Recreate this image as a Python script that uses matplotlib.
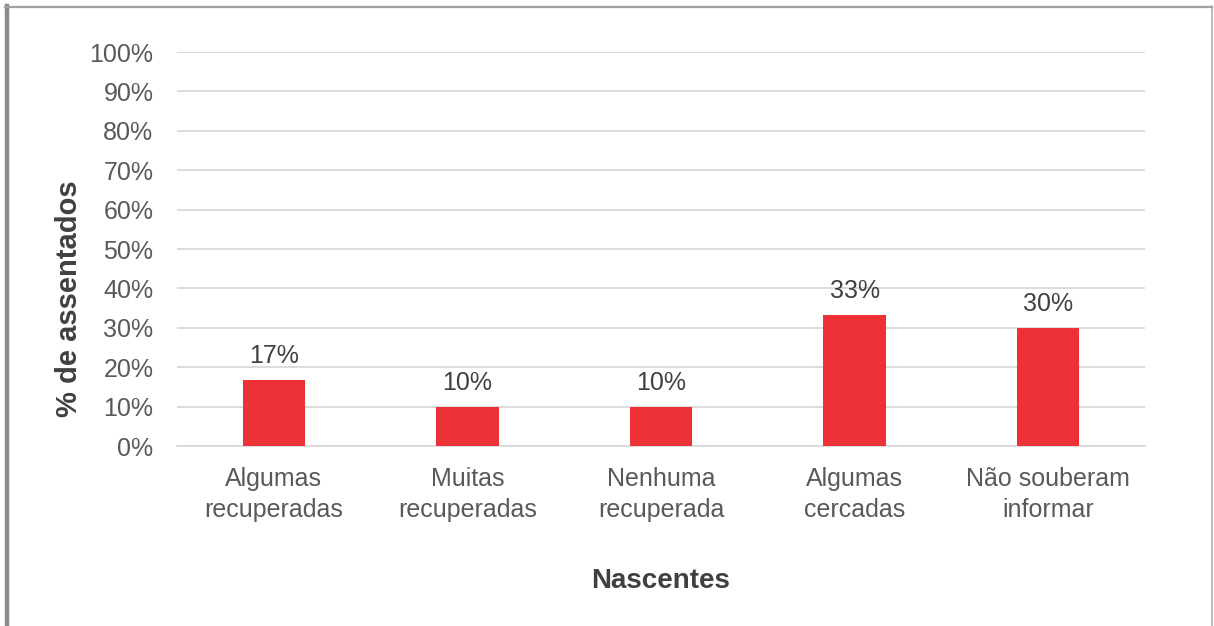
import matplotlib.pyplot as plt
from matplotlib.lines import Line2D

categorias = ["Algumas\nrecuperadas", "Muitas\nrecuperadas", "Nenhuma\nrecuperada",
              "Algumas\ncercadas", "Não souberam\ninformar"]
percentuais = [16.7, 10.0, 10.0, 33.3, 30.0]
yticks = list(range(0, 101, 10))

plt.rcParams['font.family'] = ['Liberation Sans', 'DejaVu Sans']

fig = plt.figure(figsize=(12.14, 6.26), dpi=100)
ax = fig.add_axes([0.1458, 0.2875, 0.7974, 0.6294])

x = range(len(categorias))
bars = ax.bar(x, percentuais, width=0.322, color='#ec3237', zorder=3)

for b, v in zip(bars, percentuais):
    ax.annotate(f"{v:.0f}%", (b.get_x() + b.get_width() / 2, v),
                xytext=(0, 8.5), textcoords='offset points',
                ha='center', va='bottom', fontsize=18, color='#404040')

ax.set_xlim(-0.5, len(categorias) - 0.5)
ax.set_ylim(0, 100)
ax.set_yticks(yticks)
ax.set_yticklabels([f"{t}%" for t in yticks])
ax.set_xticks(list(x))
ax.set_xticklabels(categorias, linespacing=1.38)
ax.tick_params(axis='y', length=0, pad=17, labelsize=18, labelcolor='#595959')
ax.tick_params(axis='x', length=0, pad=15, labelsize=18, labelcolor='#595959')

ax.grid(axis='y', color='#d9d9d9', linewidth=1.3, zorder=0)
for s in ['top', 'right', 'left']:
    ax.spines[s].set_visible(False)
ax.spines['bottom'].set_color('#d9d9d9')
ax.spines['bottom'].set_linewidth(1.3)

ax.set_ylabel("% de assentados", fontsize=21, fontweight='bold', color='#404040')
ax.yaxis.set_label_coords(-0.0975, 0.375)
ax.set_xlabel("Nascentes", fontsize=20, fontweight='bold', color='#404040', labelpad=33)

# frame around the figure (left, top and right edges)
fig.add_artist(Line2D([0.0058, 0.0058], [0, 0.990], color='#8a8a8a', linewidth=3.2))
fig.add_artist(Line2D([0.004, 0.9985], [0.989, 0.989], color='#a0a0a0', linewidth=1.6))
fig.add_artist(Line2D([0.9982, 0.9982], [0, 0.990], color='#a8a8a8', linewidth=1.1))

fig.savefig("out.png", dpi=100, facecolor='white')
